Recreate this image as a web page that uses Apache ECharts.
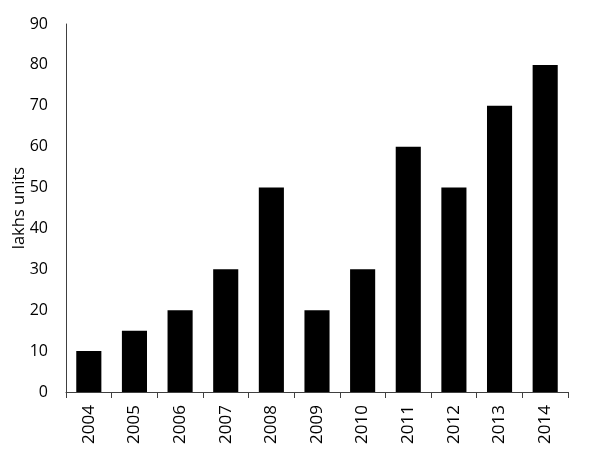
<!DOCTYPE html>
<html><head><meta charset="utf-8">
<script src="https://cdn.jsdelivr.net/npm/echarts@6/dist/echarts.min.js"></script>
<style>html,body{margin:0;padding:0;background:#fff}#c{width:601px;height:454px}</style>
</head><body><div id="c"></div>
<script>
var categories = ['2004','2005','2006','2007','2008','2009','2010','2011','2012','2013','2014'];
var values = [10,15,20,30,50,20,30,60,50,70,80];
var yTicks = {min:0, max:90, interval:10};
var chart = echarts.init(document.getElementById('c'));
chart.setOption({
  animation:false,
  grid:{left:66,right:33,top:24,bottom:62,outerBoundsMode:'none',containLabel:false},
  xAxis:{type:'category',data:categories,
    axisLine:{lineStyle:{color:'#404040',width:1}},
    axisTick:{show:true,length:6,alignWithLabel:false,lineStyle:{color:'#404040'}},
    axisLabel:{rotate:90,color:'#000',fontSize:17,fontFamily:'Open Sans',margin:13}},
  yAxis:{type:'value',min:yTicks.min,max:yTicks.max,interval:yTicks.interval,
    name:'lakhs units',nameLocation:'middle',nameGap:38,nameMoveOverlap:false,
    nameTextStyle:{color:'#000',fontSize:16.5,fontFamily:'Open Sans'},
    axisLine:{show:true,lineStyle:{color:'#404040',width:1}},
    axisTick:{show:false},splitLine:{show:false},
    axisLabel:{color:'#000',fontSize:16,fontFamily:'Open Sans',margin:18}},
  series:[{type:'bar',data:values,barWidth:'55%',itemStyle:{color:'#000'}}]
});
</script></body></html>
